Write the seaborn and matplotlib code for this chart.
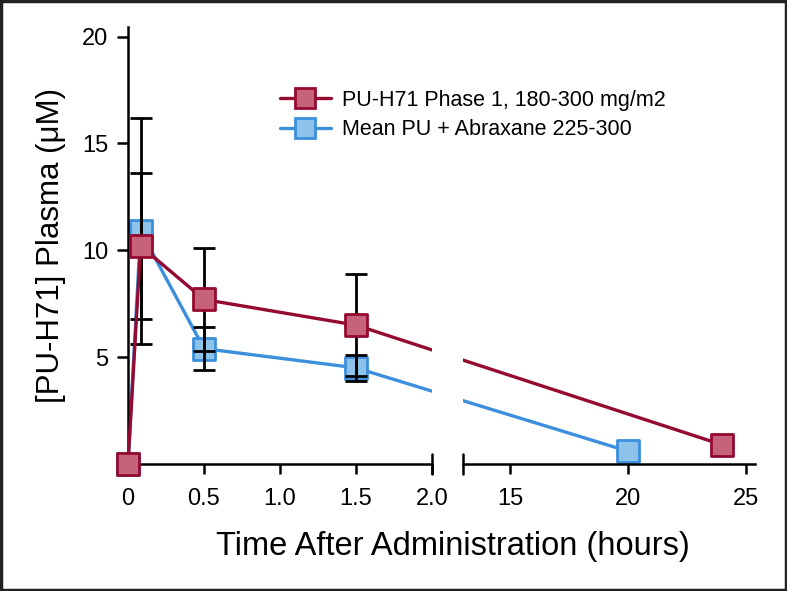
import numpy as np
import matplotlib
matplotlib.use("Agg")
import matplotlib.pyplot as plt
from matplotlib.lines import Line2D
from matplotlib.patches import Rectangle
import seaborn as sns

# ---- data (hours, uM) ----
red_t = [0, 0.083, 0.5, 1.5, 24]
red_y = [0, 10.2, 7.7, 6.5, 0.9]
red_err_t = [0.083, 0.5, 1.5]
red_err_lo = [5.6, 5.3, 4.1]
red_err_hi = [16.2, 10.1, 8.9]

blue_t = [0, 0.083, 0.5, 1.5, 20]
blue_y = [0, 10.9, 5.4, 4.5, 0.6]
blue_err_t = [0.083, 0.5, 1.5]
blue_err_lo = [6.8, 4.4, 3.9]
blue_err_hi = [13.6, 6.4, 5.1]

left_ticks = [0, 0.5, 1.0, 1.5, 2.0]
left_ticklabels = ["0", "0.5", "1.0", "1.5", "2.0"]
right_ticks = [15, 20, 25]
y_ticks = [5, 10, 15, 20]

RED_LINE, RED_FACE = "#940a30", "#c7627b"
BLUE_LINE, BLUE_FACE = "#3c8fdc", "#8ec3e9"

sns.set_theme(style="ticks")
plt.rcParams["font.family"] = ["Liberation Sans", "DejaVu Sans"]
plt.rcParams.update({"text.color": "black", "axes.labelcolor": "black",
                     "xtick.color": "black", "ytick.color": "black"})

fig = plt.figure(figsize=(7.87, 5.91), dpi=100)
W, H = 787, 591
axl = fig.add_axes([128 / W, 1 - 464 / H, (432 - 128) / W, (464 - 27) / H])
axr = fig.add_axes([463 / W, 1 - 464 / H, (755 - 463) / W, (464 - 27) / H])
axl.set_xlim(0, 2.0)
axr.set_xlim(13, 25.4)
for ax in (axl, axr):
    ax.set_ylim(0, 20.45)
    ax.set_facecolor("none")


def project(src, dst, t, y):
    # map a point of one axes into the data coords of the other (same pixel)
    disp = src.transData.transform((t, y))
    return dst.transData.inverted().transform(disp)


def draw_series(ts, ys, line_c, face_c, z):
    ts, ys = np.asarray(ts, float), np.asarray(ys, float)
    left = ts <= 2.0
    # left panel: own points + far point projected, clipped at panel edge
    far = project(axr, axl, ts[~left][0], ys[~left][0])
    lx = np.append(ts[left], far[0])
    ly = np.append(ys[left], far[1])
    sns.lineplot(x=lx, y=ly, ax=axl, color=line_c, lw=2.4, zorder=z, sort=False)
    near = project(axl, axr, ts[left][-1], ys[left][-1])
    rx = np.insert(ts[~left], 0, near[0])
    ry = np.insert(ys[~left], 0, near[1])
    sns.lineplot(x=rx, y=ry, ax=axr, color=line_c, lw=2.4, zorder=z, sort=False)
    for ax, m in ((axl, left), (axr, ~left)):
        sns.scatterplot(x=ts[m], y=ys[m], ax=ax, marker="s", s=250, color=face_c,
                        edgecolor=line_c, linewidth=2, zorder=z + 0.5, clip_on=False)


def draw_err(et, lo, hi):
    et = np.asarray(et)
    axl.errorbar(et, (np.asarray(lo) + np.asarray(hi)) / 2,
                 yerr=(np.asarray(hi) - np.asarray(lo)) / 2, fmt="none",
                 ecolor="black", elinewidth=2, capsize=8, capthick=2, zorder=2.8)


draw_series(blue_t, blue_y, BLUE_LINE, BLUE_FACE, 2)
draw_err(blue_err_t, blue_err_lo, blue_err_hi)
draw_err(red_err_t, red_err_lo, red_err_hi)
draw_series(red_t, red_y, RED_LINE, RED_FACE, 4)

# spines / ticks
axl.spines[["top", "right"]].set_visible(False)
axr.spines[["top", "right", "left"]].set_visible(False)
for sp in list(axl.spines.values()) + list(axr.spines.values()):
    sp.set_linewidth(1.8)
    sp.set_color("black")
axl.set_yticks(y_ticks)
axl.set_yticklabels([str(v) for v in y_ticks], fontsize=17)
axl.tick_params(axis="y", length=8, width=1.8, color="black", pad=6)
axl.set_xticks(left_ticks)
axl.set_xticklabels(left_ticklabels, fontsize=17)
axl.tick_params(axis="x", length=7, width=1.8, color="black", pad=10)
axr.set_yticks([])
axr.set_xticks(right_ticks)
axr.set_xticklabels([str(v) for v in right_ticks], fontsize=17)
axr.tick_params(axis="x", length=7, width=1.8, color="black", pad=10)

# break marks
for ax, xpos in ((axl, 1.0), (axr, 0.0)):
    ax.plot([xpos, xpos], [-0.022, 0.022], transform=ax.transAxes, color="black",
            lw=1.8, clip_on=False, zorder=5)

axl.set_ylabel("[PU-H71] Plasma (μM)", fontsize=22.5, labelpad=12)
fig.text(453 / W, 1 - 547 / H, "Time After Administration (hours)", fontsize=23.5,
         ha="center", va="center")

handles = [
    Line2D([], [], color=RED_LINE, lw=2.4, marker="s", markersize=15,
           markerfacecolor=RED_FACE, markeredgecolor=RED_LINE, markeredgewidth=2),
    Line2D([], [], color=BLUE_LINE, lw=2.4, marker="s", markersize=15,
           markerfacecolor=BLUE_FACE, markeredgecolor=BLUE_LINE, markeredgewidth=2),
]
fig.legend(handles, ["PU-H71 Phase 1, 180-300 mg/m2", "Mean PU + Abraxane 225-300"],
           loc="upper left", bbox_to_anchor=(271 / W, 1 - 81 / H), frameon=False,
           fontsize=15.5, handlelength=2.4, handletextpad=0.5, labelspacing=0.4,
           borderaxespad=0)

fig.add_artist(Rectangle((0.0015, 0.002), 0.997, 0.996, transform=fig.transFigure,
                         fill=False, edgecolor="#222222", lw=2.5))

fig.savefig("out.png", dpi=100)
